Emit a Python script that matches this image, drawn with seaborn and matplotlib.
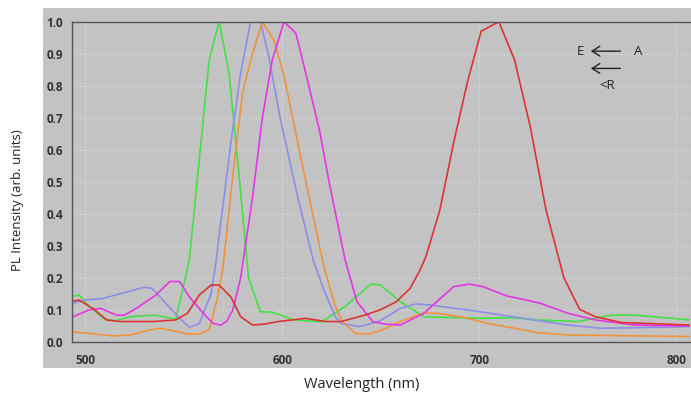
import pandas as pd
import numpy as np
import matplotlib.pyplot as plt
import seaborn as sns
from matplotlib.patches import Rectangle
from matplotlib.ticker import MultipleLocator

# wavelength (nm) / intensity pairs
green_wl = [492, 497, 502, 510, 515, 523, 536, 546, 551, 553, 558, 563, 568, 573, 578, 583, 589, 595, 606, 620, 632, 645, 650, 660, 672, 700, 717, 730, 750, 767, 779, 807]
green_pl = [0.14, 0.146, 0.11, 0.07, 0.065, 0.078, 0.083, 0.07, 0.2, 0.26, 0.57, 0.88, 1.0, 0.844, 0.53, 0.2, 0.094, 0.092, 0.068, 0.062, 0.11, 0.18, 0.177, 0.125, 0.078, 0.073, 0.075, 0.068, 0.063, 0.083, 0.083, 0.068]

blue_wl = [492, 499, 509, 518, 530, 534, 541, 548, 553, 558, 564, 566, 574, 579, 584, 589, 593, 599, 608, 616, 622, 627, 630, 639, 649, 660, 668, 675, 700, 717, 730, 745, 762, 807]
blue_pl = [0.115, 0.13, 0.135, 0.15, 0.17, 0.167, 0.12, 0.073, 0.045, 0.057, 0.15, 0.23, 0.62, 0.84, 1.0, 1.0, 0.9, 0.70, 0.45, 0.25, 0.15, 0.078, 0.057, 0.047, 0.063, 0.104, 0.118, 0.115, 0.094, 0.078, 0.066, 0.052, 0.042, 0.047]

orange_wl = [492, 502, 514, 523, 533, 538, 545, 552, 558, 563, 567, 570, 575, 580, 585, 590, 596, 601, 609, 621, 627, 630, 637, 644, 650, 660, 672, 680, 692, 706, 730, 745, 807]
orange_pl = [0.031, 0.026, 0.018, 0.021, 0.037, 0.042, 0.034, 0.024, 0.024, 0.037, 0.13, 0.23, 0.52, 0.78, 0.90, 1.0, 0.94, 0.83, 0.59, 0.24, 0.11, 0.068, 0.026, 0.024, 0.035, 0.063, 0.09, 0.088, 0.076, 0.055, 0.028, 0.021, 0.016]

magenta_wl = [492, 502, 508, 516, 520, 526, 536, 543, 548, 553, 560, 565, 569, 572, 575, 579, 585, 590, 595, 601, 607, 612, 619, 624, 632, 638, 646, 652, 660, 672, 687, 695, 702, 714, 724, 731, 745, 759, 779, 807]
magenta_pl = [0.073, 0.099, 0.104, 0.083, 0.083, 0.104, 0.146, 0.188, 0.188, 0.14, 0.089, 0.057, 0.052, 0.065, 0.099, 0.2, 0.45, 0.70, 0.88, 1.0, 0.964, 0.84, 0.66, 0.495, 0.255, 0.125, 0.063, 0.055, 0.052, 0.089, 0.172, 0.18, 0.172, 0.143, 0.13, 0.12, 0.089, 0.068, 0.052, 0.049]

red_wl = [492, 497, 504, 511, 518, 535, 546, 552, 558, 564, 568, 574, 579, 585, 591, 598, 612, 622, 630, 642, 650, 658, 665, 670, 673, 680, 687, 694, 701, 710, 718, 726, 734, 743, 751, 759, 772, 807]
red_pl = [0.125, 0.13, 0.104, 0.068, 0.063, 0.063, 0.068, 0.089, 0.146, 0.177, 0.177, 0.14, 0.078, 0.052, 0.055, 0.063, 0.073, 0.063, 0.063, 0.083, 0.1, 0.125, 0.167, 0.224, 0.266, 0.41, 0.62, 0.81, 0.97, 1.0, 0.88, 0.67, 0.41, 0.2, 0.101, 0.078, 0.06, 0.052]

series = {
    'green': (green_wl, green_pl),
    'blue': (blue_wl, blue_pl),
    'orange': (orange_wl, orange_pl),
    'magenta': (magenta_wl, magenta_pl),
    'red': (red_wl, red_pl),
}
colors = {'green': '#46e046', 'blue': '#8e8ee8', 'orange': '#f0923e',
          'magenta': '#e436e4', 'red': '#dc3434'}

frames = []
for name, (wl, pl) in series.items():
    frames.append(pd.DataFrame({'wavelength': wl, 'pl': pl, 'sample': name}))
df = pd.concat(frames, ignore_index=True)

sns.set_style('white')
plt.rcParams['font.family'] = ['Open Sans', 'DejaVu Sans']

fig = plt.figure(figsize=(6.91, 3.95), dpi=100)
fig.patch.set_facecolor('white')
# grey panel behind the plot area
fig.patches.append(Rectangle((43 / 691, 1 - 368 / 395), 1 - 43 / 691, (368 - 8) / 395,
                             transform=fig.transFigure, facecolor='#c3c3c3',
                             edgecolor='none', zorder=-5))

ax = fig.add_axes([72 / 691, 1 - 341.7 / 395, (690 - 72) / 691, 320 / 395])
ax.set_facecolor('#c3c3c3')

sns.lineplot(data=df, x='wavelength', y='pl', hue='sample', palette=colors,
             sort=False, estimator=None, lw=1.2, legend=False, ax=ax)

ax.set_xlim(493.4, 807)
ax.set_ylim(0, 1.0)
ax.xaxis.set_major_locator(MultipleLocator(100))
ax.xaxis.set_minor_locator(MultipleLocator(50))
ax.yaxis.set_major_locator(MultipleLocator(0.1))
ax.yaxis.set_minor_locator(MultipleLocator(0.05))
ax.yaxis.set_major_formatter(plt.FormatStrFormatter('%.1f'))
ax.tick_params(axis='both', which='major', direction='out', length=3, width=1,
               color='#444444', labelsize=8.5, labelcolor='#333333')
ax.tick_params(axis='both', which='minor', direction='out', length=2, color='#444444')
for lbl in ax.get_xticklabels() + ax.get_yticklabels():
    lbl.set_fontweight('bold')
ax.tick_params(axis='x', pad=6)

ax.grid(True, which='major', color='#dedede', linestyle=(0, (1, 2)), lw=0.9)
for side in ['top', 'bottom', 'left']:
    ax.spines[side].set_color('#555555')
    ax.spines[side].set_linewidth(1.0)
ax.spines['right'].set_visible(False)
ax.set_xlabel('')
ax.set_ylabel('')

fig.text(18 / 691, 1 - 200 / 395, 'PL Intensity (arb. units)', rotation=90,
         ha='center', va='center', fontsize=9.5, color='#222222')
fig.text(362 / 691, 1 - 385 / 395, 'Wavelength (nm)', ha='center', va='center',
         fontsize=10.5, color='#222222')

# reaction arrows in the upper right
arrow_style = dict(arrowstyle='->, head_length=0.55, head_width=0.35',
                   color='#222222', lw=1.0)
ax.text(751.3, 0.908, 'E', ha='center', va='center', fontsize=9.5, color='#222222')
ax.text(780.7, 0.908, 'A', ha='center', va='center', fontsize=9.5, color='#222222')
ax.annotate('', xy=(755.3, 0.908), xytext=(773.1, 0.908), arrowprops=arrow_style)
ax.annotate('', xy=(755.3, 0.854), xytext=(773.1, 0.854), arrowprops=arrow_style)
ax.text(765, 0.802, '<R', ha='center', va='center', fontsize=9.5, color='#222222')

plt.savefig('out.png', dpi=100)
